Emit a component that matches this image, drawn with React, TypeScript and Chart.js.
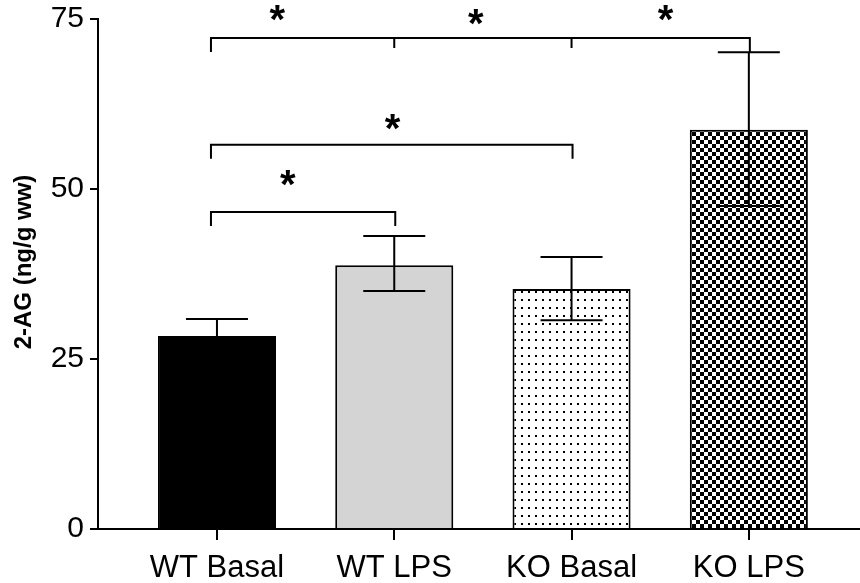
import React, { useEffect, useRef } from "react";
import { Chart, registerables } from "chart.js";

Chart.register(...registerables);

// ---- data ----
const categories = ["WT Basal", "WT LPS", "KO Basal", "KO LPS"];
const means = [28.4, 38.8, 35.3, 58.7];
const errUpper = [30.9, 43.1, 40.0, 70.1];
const errLower = [25.9, 35.0, 30.7, 47.5];
const yTicks = [0, 25, 50, 75];
const yTitle = "2-AG (ng/g ww)";

// significance brackets (category index from/to, height in data units)
const bracketFrom = [0, 0, 0];
const bracketTo = [3, 2, 1];
const bracketY = [72.2, 56.5, 46.6];
const bracketInnerTicks = [[1, 2], [], []];
// stars (x in category units, y in data units)
const starLabel = ["*", "*", "*", "*", "*"];
const starX = [0.34, 1.46, 2.53, 0.99, 0.4];
const starY = [75.9, 75.3, 75.9, 59.9, 51.6];

const FONT = "'Liberation Sans', Arial, Helvetica, sans-serif";

function makeDots(): CanvasPattern | string {
  const c = document.createElement("canvas");
  c.width = 7;
  c.height = 8;
  const g = c.getContext("2d")!;
  g.fillStyle = "#ffffff";
  g.fillRect(0, 0, 7, 8);
  g.fillStyle = "#000000";
  g.fillRect(3, 3, 2, 2);
  const ctx = document.createElement("canvas").getContext("2d")!;
  return ctx.createPattern(c, "repeat") || "#fff";
}

function makeChecker(): CanvasPattern | string {
  const c = document.createElement("canvas");
  c.width = 8;
  c.height = 8;
  const g = c.getContext("2d")!;
  g.fillStyle = "#ffffff";
  g.fillRect(0, 0, 8, 8);
  g.fillStyle = "#000000";
  g.fillRect(0, 0, 4, 4);
  g.fillRect(4, 4, 4, 4);
  const ctx = document.createElement("canvas").getContext("2d")!;
  return ctx.createPattern(c, "repeat") || "#000";
}

const overlayPlugin = {
  id: "overlay",
  afterDatasetsDraw(chart: any) {
    const ctx = chart.ctx as CanvasRenderingContext2D;
    const xs = chart.scales.x;
    const ys = chart.scales.y;
    ctx.save();
    ctx.strokeStyle = "#000";
    ctx.lineWidth = 2;
    ctx.lineCap = "butt";
    // error bars
    for (let i = 0; i < means.length; i++) {
      const x = xs.getPixelForValue(i);
      const yt = ys.getPixelForValue(errUpper[i]);
      const yb = ys.getPixelForValue(errLower[i]);
      const cap = 31;
      ctx.beginPath();
      ctx.moveTo(x, yt);
      ctx.lineTo(x, yb);
      ctx.moveTo(x - cap, yt);
      ctx.lineTo(x + cap, yt);
      ctx.moveTo(x - cap, yb);
      ctx.lineTo(x + cap, yb);
      ctx.stroke();
    }
    // brackets
    for (let b = 0; b < bracketFrom.length; b++) {
      const x1 = xs.getPixelForValue(bracketFrom[b]) - 6;
      const x2 = xs.getPixelForValue(bracketTo[b]) + 1;
      const y = ys.getPixelForValue(bracketY[b]);
      const drop = 14;
      ctx.beginPath();
      ctx.moveTo(x1, y + drop);
      ctx.lineTo(x1, y);
      ctx.lineTo(x2, y);
      ctx.lineTo(x2, y + drop);
      for (const t of bracketInnerTicks[b]) {
        const xt = xs.getPixelForValue(t);
        ctx.moveTo(xt, y);
        ctx.lineTo(xt, y + 10);
      }
      ctx.stroke();
    }
    // stars
    ctx.fillStyle = "#000";
    ctx.font = `bold 40px ${FONT}`;
    ctx.textAlign = "center";
    ctx.textBaseline = "alphabetic";
    for (let s = 0; s < starX.length; s++) {
      const m = ctx.measureText(starLabel[s]);
      const asc = m.actualBoundingBoxAscent;
      const desc = m.actualBoundingBoxDescent;
      const cx = xs.getPixelForValue(starX[s]);
      const cy = ys.getPixelForValue(starY[s]);
      ctx.fillText(starLabel[s], cx, cy + (asc - desc) / 2);
    }
    // y title
    ctx.font = `bold 24px ${FONT}`;
    ctx.textBaseline = "middle";
    ctx.translate(24, 262);
    ctx.rotate(-Math.PI / 2);
    ctx.fillText(yTitle, 0, 0);
    ctx.restore();
  },
};

export default function App() {
  const ref = useRef<HTMLCanvasElement | null>(null);
  useEffect(() => {
    if (!ref.current) return;
    const fills = ["#000000", "#d4d4d4", makeDots(), makeChecker()];
    const chart = new Chart(ref.current, {
      type: "bar",
      data: {
        datasets: [
          {
            data: means.map((v, i) => ({ x: i, y: v })) as any,
            backgroundColor: fills as any,
            borderColor: "#000",
            borderWidth: 2,
            barPercentage: 0.666,
            categoryPercentage: 1,
          },
        ],
      },
      options: {
        responsive: false,
        animation: false,
        layout: { padding: { top: 19, right: 0, left: 0, bottom: 0 } },
        plugins: { legend: { display: false }, tooltip: { enabled: false } },
        scales: {
          x: {
            type: "linear",
            min: -0.671,
            max: 3.627,
            offset: false,
            bounds: "data",
            afterBuildTicks: (scale: any) => {
              scale.ticks = categories.map((_, i) => ({ value: i }));
            },
            afterFit: (scale: any) => {
              scale.height = 54;
              scale.paddingLeft = 0;
              scale.paddingRight = 0;
            },
            ticks: {
              callback: (v: any) => categories[Math.round(Number(v))] ?? "",
              color: "#000",
              font: { family: FONT, size: 31 },
              padding: 10,
              maxRotation: 0,
              autoSkip: false,
            },
            grid: {
              display: true,
              offset: false,
              drawOnChartArea: false,
              drawTicks: true,
              tickLength: 11,
              color: "#000",
              lineWidth: 2,
            },
            border: { display: true, color: "#000", width: 2 },
          },
          y: {
            min: 0,
            max: 75,
            afterBuildTicks: (scale: any) => {
              scale.ticks = yTicks.map((v) => ({ value: v }));
            },
            afterFit: (scale: any) => {
              scale.width = 98;
              scale.paddingTop = 0;
              scale.paddingBottom = 0;
            },
            ticks: {
              color: "#000",
              font: { family: FONT, size: 30 },
              padding: 6,
            },
            grid: {
              display: true,
              drawOnChartArea: false,
              drawTicks: true,
              tickLength: 8,
              color: "#000",
              lineWidth: 2,
            },
            border: { display: true, color: "#000", width: 2 },
          },
        },
      },
      plugins: [overlayPlugin],
    });
    return () => chart.destroy();
  }, []);
  return (
    <div style={{ position: "fixed", left: 0, top: 0, width: 860, height: 583, background: "#fff" }}>
      <canvas ref={ref} width={860} height={583} style={{ display: "block" }} />
    </div>
  );
}
